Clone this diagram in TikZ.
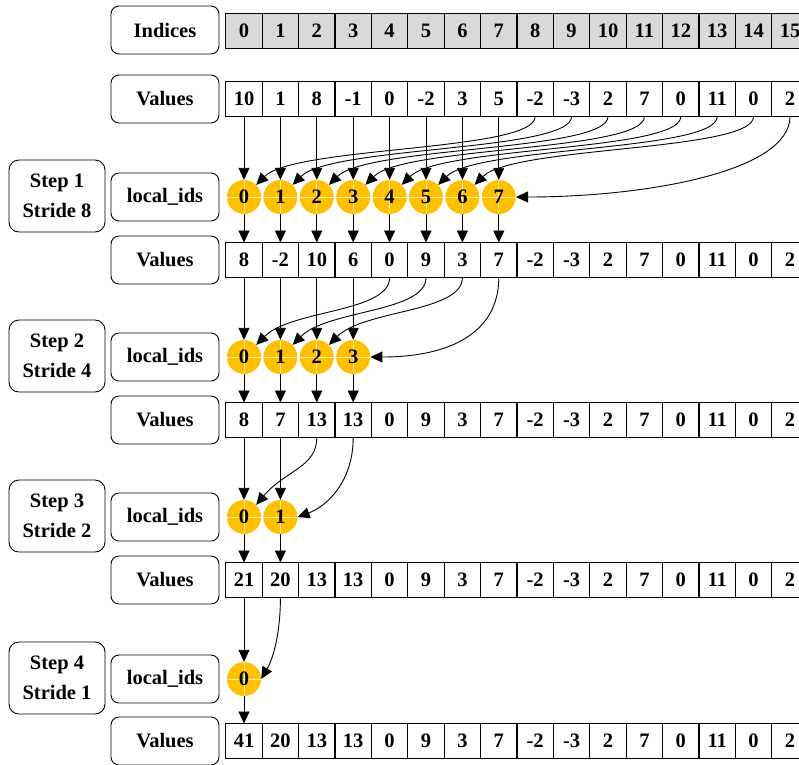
\documentclass[tikz,border=0pt]{standalone}
\usepackage{fontspec}
\setmainfont{Liberation Serif}
\usepackage{tikz}
\usetikzlibrary{arrows.meta, positioning}
\definecolor{idsgold}{RGB}{255,192,0}
\definecolor{idxgray}{RGB}{217,217,217}

\begin{document}
\begin{tikzpicture}[x = 1pt, y = 1pt,
		font = \bfseries\fontsize{20.5}{24}\selectfont,
		cell/.style = {draw, line width = 1.1pt, minimum width = 36.4pt, minimum height = 35pt, inner sep = 0pt, outer sep = 0pt},
		rowname/.style = {draw, rounded corners = 8pt, line width = 0.9pt, minimum width = 108pt, minimum height = 48pt, inner sep = 0pt},
		stepbox/.style = {draw, rounded corners = 10pt, line width = 0.9pt, minimum width = 96pt, minimum height = 72pt, inner sep = 0pt, align = center, font = \bfseries\fontsize{20.5}{30}\selectfont},
		lid/.style = {circle, fill = idsgold, minimum size = 34pt, inner sep = 0pt,
			path picture = {\draw[white!70!idsgold, line width = 0.8pt]
				(path picture bounding box.north) -- (path picture bounding box.south)
				(path picture bounding box.west) -- (path picture bounding box.east);}},
		flow/.style = {-{Triangle[length = 12pt, width = 11pt]}, line width = 0.9pt}]
			\clip (0,0) rectangle (799,-764);
			\def\xCELL{244};
			\def\dCELL{36.4};

			% row names
			\node[rowname] (nIdx) at (165,-30) {Indices};
			\foreach \r/\y in {0/99, 1/260, 2/420, 3/580, 4/741}
				\node[rowname] (nVal\r) at (165,-\y) {Values};
			\foreach \r/\y in {1/197, 2/357, 3/517, 4/679}
				\node[rowname] (nIds\r) at (165,-\y) {local\_ids};

			% steps
			\node[stepbox] (step1) at (57,-196) {Step 1\\Stride 8};
			\node[stepbox] (step2) at (57,-356) {Step 2\\Stride 4};
			\node[stepbox] (step3) at (57,-516) {Step 3\\Stride 2};
			\node[stepbox] (step4) at (57,-678) {Step 4\\Stride 1};

			% arrays
			\foreach \i in {0,...,15}
				\node[cell, fill = idxgray] (idx-\i) at ({\xCELL+\dCELL*\i},-31) {\i};
			\foreach \v [count = \i from 0] in {10,1,8,-1,0,-2,3,5,-2,-3,2,7,0,11,0,2}
				\node[cell] (v0-\i) at ({\xCELL+\dCELL*\i},-99) {\v};
			\foreach \v [count = \i from 0] in {8,-2,10,6,0,9,3,7,-2,-3,2,7,0,11,0,2}
				\node[cell] (v1-\i) at ({\xCELL+\dCELL*\i},-260) {\v};
			\foreach \v [count = \i from 0] in {8,7,13,13,0,9,3,7,-2,-3,2,7,0,11,0,2}
				\node[cell] (v2-\i) at ({\xCELL+\dCELL*\i},-420) {\v};
			\foreach \v [count = \i from 0] in {21,20,13,13,0,9,3,7,-2,-3,2,7,0,11,0,2}
				\node[cell] (v3-\i) at ({\xCELL+\dCELL*\i},-580) {\v};
			\foreach \v [count = \i from 0] in {41,20,13,13,0,9,3,7,-2,-3,2,7,0,11,0,2}
				\node[cell] (v4-\i) at ({\xCELL+\dCELL*\i},-741) {\v};

			% local ids
			\foreach \i in {0,...,7}
				\node[lid] (ids1-\i) at ({\xCELL+\dCELL*\i},-197) {\i};
			\foreach \i in {0,...,3}
				\node[lid] (ids2-\i) at ({\xCELL+\dCELL*\i},-357) {\i};
			\foreach \i in {0,1}
				\node[lid] (ids3-\i) at ({\xCELL+\dCELL*\i},-517) {\i};
			\node[lid] (ids4-0) at (\xCELL,-679) {0};

			% step 1
			\begin{scope}[flow]
				\foreach \i in {0,...,7} {
					\draw (v0-\i.south) -- (ids1-\i.north);
					\draw (ids1-\i.south) -- (v1-\i.north);
				}
				\foreach \i [evaluate = \i as \j using int(\i+8)] in {0,...,6}
					\draw (v0-\j.south) to[out = -90, in = 45, out distance = 35pt, in distance = 55pt] (ids1-\i.north east);
				\draw (v0-15.south) to[out = -90, in = 0, out distance = 55pt, in distance = 130pt] (ids1-7.east);
			\end{scope}

			% step 2
			\begin{scope}[flow]
				\foreach \i in {0,...,3} {
					\draw (v1-\i.south) -- (ids2-\i.north);
					\draw (ids2-\i.south) -- (v2-\i.north);
				}
				\foreach \i [evaluate = \i as \j using int(\i+4)] in {0,...,2}
					\draw (v1-\j.south) to[out = -90, in = 45, out distance = 35pt, in distance = 50pt] (ids2-\i.north east);
				\draw (v1-7.south) to[out = -90, in = 0, out distance = 55pt, in distance = 80pt] (ids2-3.east);
			\end{scope}

			% step 3
			\begin{scope}[flow]
				\foreach \i in {0,1} {
					\draw (v2-\i.south) -- (ids3-\i.north);
					\draw (ids3-\i.south) -- (v3-\i.north);
				}
				\draw (v2-2.south) to[out = -90, in = 50, out distance = 30pt, in distance = 45pt] (ids3-0.north east);
				\draw (v2-3.south) to[out = -90, in = 20, out distance = 45pt, in distance = 30pt] (ids3-1.east);
			\end{scope}

			% step 4
			\draw[flow] (v3-0.south) -- (ids4-0.north);
			\draw[flow] (ids4-0.south) -- (v4-0.north);
			\draw[flow] (v3-1.south) to[out = -90, in = 60, out distance = 35pt, in distance = 25pt] (ids4-0.east);
		\end{tikzpicture}
\end{document}
